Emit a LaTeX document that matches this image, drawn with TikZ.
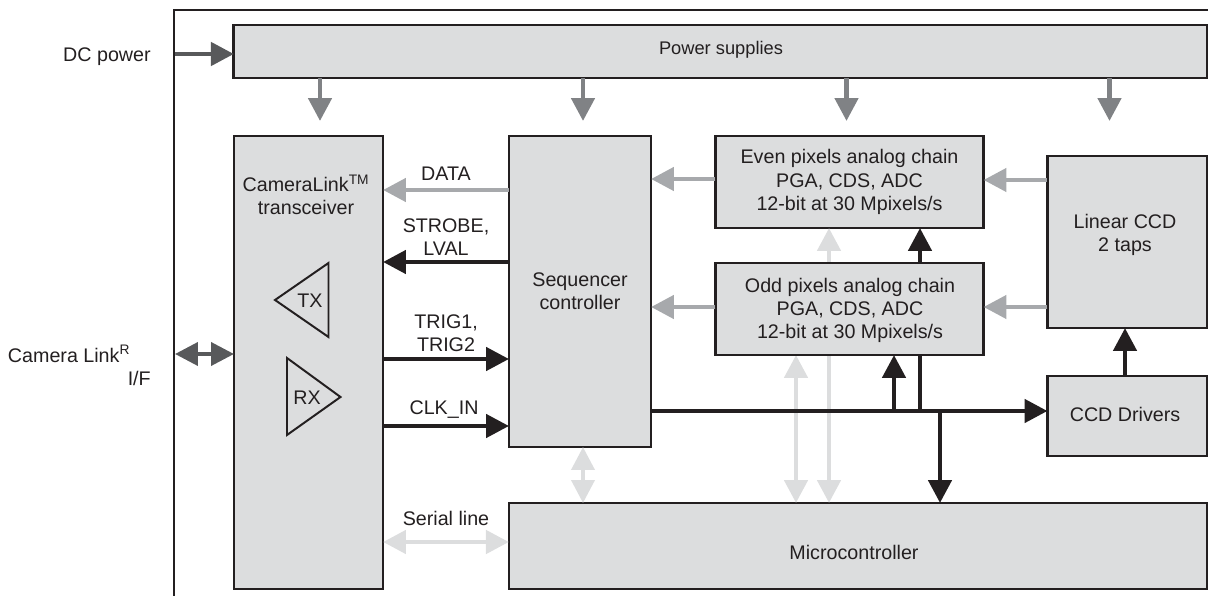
\documentclass[tikz,border=0pt]{standalone}
\usepackage{fontspec}
\setmainfont{Liberation Sans}
\usetikzlibrary{arrows.meta}
\definecolor{boxgray}{HTML}{DCDDDE}
\definecolor{inkblack}{HTML}{231F20}
\definecolor{darkline}{HTML}{58595B}
\definecolor{powerline}{HTML}{808285}
\definecolor{dataline}{HTML}{A7A9AC}
\definecolor{lightline}{HTML}{DCDDDE}
\tikzset{
	block/.style={draw=inkblack, fill=boxgray, line width=2pt, inner sep=0pt, outer sep=0pt, align=center, text=inkblack},
	tag/.style={inner sep=0pt, align=center, text=inkblack},
	amp/.style={draw=inkblack, line width=1.4pt},
	conn/.style={line width=3.4pt, -{Triangle[length=16.3pt,width=16.3pt]}},
	both/.style={line width=3.4pt, {Triangle[length=16.3pt,width=16.3pt]}-{Triangle[length=16.3pt,width=16.3pt]}}
}
\begin{document}
\begin{tikzpicture}[
		x=0.025cm, y=-0.025cm,
		every node/.append style={font=\fontsize{14}{16.6}\selectfont}
	]
  \useasboundingbox (0,0) rectangle (1208,596);
  \coordinate (frametop) at (1208,10);
  \coordinate (framecorner) at (174,10);
  \coordinate (framebottom) at (174,596);
  \draw[inkblack, line width=2pt] (frametop) -- (framecorner) -- (framebottom);

  \node (power) [block, minimum width=24.325cm, minimum height=1.325cm] at (720.5,51.5) {};
  \node (cam) [block, minimum width=3.725cm, minimum height=11.325cm] at (308.5,362.5) {};
  \node (seq) [block, minimum width=3.55cm, minimum height=7.775cm] at (580,291.5) {Sequencer\\controller};
  \node (even) [block, minimum width=6.7cm, minimum height=2.3cm] at (849.5,182) {Even pixels analog chain\\PGA, CDS, ADC\\12-bit at 30 Mpixels/s};
  \node (micro) [block, minimum width=17.45cm, minimum height=2.15cm] at (858,546) {};
  \node (ccd) [block, minimum width=4cm, minimum height=4.3cm] at (1127.5,242) {};
  \node (drv) [block, minimum width=4cm, minimum height=2cm] at (1127.5,416) {};
  \node (powertext) [tag, font=\fontsize{13}{16.6}\selectfont] at (721,50) {Power supplies};
  \node (microtext) [tag] at (854,552) {Microcontroller};
  \node (ccdtext) [tag] at (1125,235) {Linear CCD\\2 taps};
  \node (drvtext) [tag] at (1125,414) {CCD Drivers};

  % these two run behind the odd chain
  \draw[both, lightline] (micro.north -| 829,0) -- (even.south -| 829,0);
  \draw[both, lightline] (micro.north -| 796,0) -- (796,355);
  \coordinate (busb) at (920,411);
  \draw[conn, inkblack] (busb) -- (even.south -| busb);
  \node (odd) [block, minimum width=6.7cm, minimum height=2.3cm] at (849.5,309) {};
  \node (oddtext) [tag] at (850,310.5) {Odd pixels analog chain\\PGA, CDS, ADC\\12-bit at 30 Mpixels/s};

  \node (camtext) [tag] at (306,195) {CameraLink\textsuperscript{TM}\\transceiver};
  \draw[amp] (328.5,263) -- (328.5,337) -- (275,300) -- cycle;
  \draw[amp] (287,358) -- (287,435) -- (340.5,397) -- cycle;
  \node (txtext) [tag] at (310,301) {TX};
  \node (rxtext) [tag] at (307,398) {RX};

  \coordinate (dcin) at (175,54);
  \coordinate (linkin) at (175,354);
  \coordinate (pwrcam) at (320,121);
  \coordinate (pwrseq) at (583,121);
  \coordinate (pwreven) at (846.5,121);
  \coordinate (pwrccd) at (1109.5,121);
  \draw[conn, darkline] (dcin) -- (power.west |- dcin);
  \draw[both, darkline, line width=2.8pt] (linkin) -- (cam.west |- linkin);
  \draw[conn, powerline] (power.south -| pwrcam) -- (pwrcam);
  \draw[conn, powerline] (power.south -| pwrseq) -- (pwrseq);
  \draw[conn, powerline] (power.south -| pwreven) -- (pwreven);
  \draw[conn, powerline] (power.south -| pwrccd) -- (pwrccd);

  \draw[conn, dataline] (seq.west |- 0,190) -- (cam.east |- 0,190);
  \draw[conn, inkblack] (seq.west |- 0,262) -- (cam.east |- 0,262);
  \draw[conn, inkblack] (cam.east |- 0,359) -- (seq.west |- 0,359);
  \draw[conn, inkblack] (cam.east |- 0,426) -- (seq.west |- 0,426);
  \draw[both, lightline] (cam.east |- 0,542) -- (micro.west |- 0,542);
  \draw[both, lightline, line width=2.8pt] (seq.south -| 583,0) -- (micro.north -| 583,0);

  \draw[conn, dataline] (even.west |- 0,179) -- (seq.east |- 0,179);
  \draw[conn, dataline] (odd.west |- 0,307) -- (seq.east |- 0,307);
  \draw[conn, dataline] (ccd.west |- 0,180) -- (even.east |- 0,180);
  \draw[conn, dataline] (ccd.west |- 0,307) -- (odd.east |- 0,307);

  \coordinate (busa) at (894,411);
  \coordinate (busc) at (940,411);
  \draw[conn, inkblack] (seq.east |- busa) -- (drv.west |- busa);
  \draw[conn, inkblack] (busa) -- (odd.south -| busa);
  \draw[conn, inkblack] (busc) -- (micro.north -| busc);
  \draw[conn, inkblack] (drv.north -| 1125,0) -- (ccd.south -| 1125,0);

  \node (dctext) [tag, anchor=east] at (151,57) {DC power};
  \node (linktext) [tag, anchor=east] at (130.5,354) {Camera Link\textsuperscript{R}};
  \node (iftext) [tag, anchor=east] at (151,378) {I/F};
  \node (datatext) [tag] at (446,174) {DATA};
  \node (strobetext) [tag] at (446,237) {STROBE,\\LVAL};
  \node (trigtext) [tag] at (446,333) {TRIG1,\\TRIG2};
  \node (clktext) [tag] at (444,410) {CLK\_IN};
  \node (serialtext) [tag] at (446,518) {Serial line};
\end{tikzpicture}
\end{document}
